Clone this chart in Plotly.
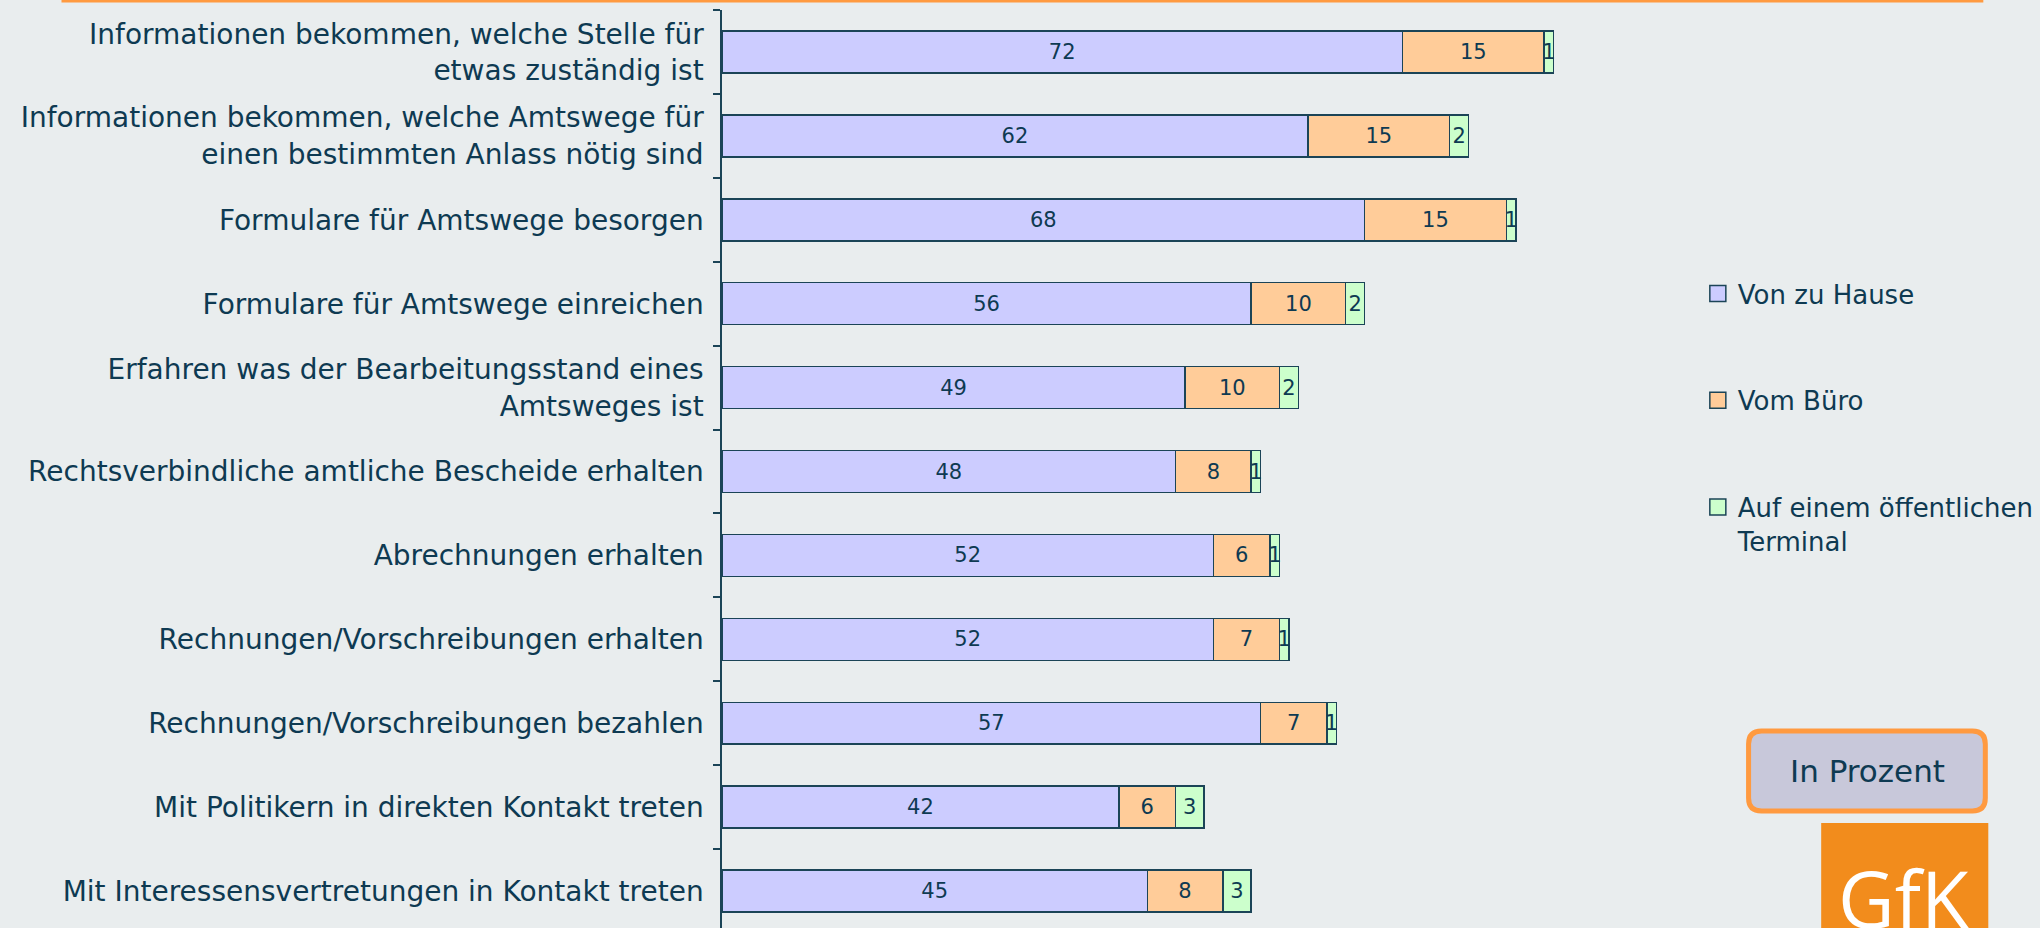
import plotly.graph_objects as go

categories = [
    "Informationen bekommen, welche Stelle für<br>etwas zuständig ist",
    "Informationen bekommen, welche Amtswege für<br>einen bestimmten Anlass nötig sind",
    "Formulare für Amtswege besorgen",
    "Formulare für Amtswege einreichen",
    "Erfahren was der Bearbeitungsstand eines<br>Amtsweges ist",
    "Rechtsverbindliche amtliche Bescheide erhalten",
    "Abrechnungen erhalten",
    "Rechnungen/Vorschreibungen erhalten",
    "Rechnungen/Vorschreibungen bezahlen",
    "Mit Politikern in direkten Kontakt treten",
    "Mit Interessensvertretungen in Kontakt treten",
]
von_zu_hause = [72, 62, 68, 56, 49, 48, 52, 52, 57, 42, 45]
vom_buero = [15, 15, 15, 10, 10, 8, 6, 7, 7, 6, 8]
terminal = [1, 2, 1, 2, 2, 1, 1, 1, 1, 3, 3]

series_names = ["Von zu Hause", "Vom Büro", "Auf einem öffentlichen<br>Terminal"]
series_values = [von_zu_hause, vom_buero, terminal]
series_colors = ["#CCCCFF", "#FFCC99", "#CCFFCC"]

TXT = "#0E3A52"
BG = "#E9EDEE"
EDGE = "#1B4457"
FONT = "DejaVu Sans"

W, H = 2040, 928
L, R_EDGE, T, B = 722, 1672, 10, 928

fig = go.Figure()
for i, (name, vals, col) in enumerate(zip(series_names, series_values, series_colors)):
    fig.add_trace(go.Bar(
        y=categories, x=vals, name=name, orientation="h",
        marker=dict(color=col, line=dict(color=EDGE, width=1.5)),
        text=[str(v) for v in vals], textposition="inside",
        insidetextanchor="middle", constraintext="none",
        textfont=dict(family=FONT, size=21, color=TXT),
        width=0.5, legendgroup=f"g{i}", showlegend=False, hoverinfo="skip",
    ))
# legend entries with larger square swatches
for i, (name, col) in enumerate(zip(series_names, series_colors)):
    fig.add_trace(go.Scatter(
        x=[None], y=[None], mode="markers", name=name,
        marker=dict(symbol="square", size=16, color=col, line=dict(color=EDGE, width=1.5)),
        legendgroup=f"g{i}", showlegend=True, hoverinfo="skip",
    ))

def px(xp):
    return (xp - L) / (R_EDGE - L)

def py(yp):
    return (B - yp) / (B - T)

def rounded_rect(x0, y0, x1, y1, r):
    def P(x, y):
        return f"{px(x):.5f},{py(y):.5f}"
    return (f"M {P(x0 + r, y0)} L {P(x1 - r, y0)} Q {P(x1, y0)} {P(x1, y0 + r)} "
            f"L {P(x1, y1 - r)} Q {P(x1, y1)} {P(x1 - r, y1)} "
            f"L {P(x0 + r, y1)} Q {P(x0, y1)} {P(x0, y1 - r)} "
            f"L {P(x0, y0 + r)} Q {P(x0, y0)} {P(x0 + r, y0)} Z")

shapes = [
    # orange top rule
    dict(type="line", xref="paper", yref="paper", x0=px(58), x1=px(1990),
         y0=py(1), y1=py(1), line=dict(color="#FF9A40", width=3)),
    # "In Prozent" box
    dict(type="path", xref="paper", yref="paper",
         path=rounded_rect(1754, 731, 1992, 811, 13),
         fillcolor="#C8C8DA", line=dict(color="#FF9A40", width=5)),
    # GfK logo
    dict(type="rect", xref="paper", yref="paper", x0=px(1827), x1=px(1995),
         y0=py(935), y1=py(823), fillcolor="#F28C1C", line=dict(width=0)),
]

annotations = [
    dict(text="In Prozent", xref="paper", yref="paper", x=px(1874), y=py(771),
         showarrow=False, font=dict(family=FONT, size=31, color=TXT),
         xanchor="center", yanchor="middle"),
    dict(text="GfK", xref="paper", yref="paper", x=px(1910), y=py(843),
         showarrow=False, font=dict(family="Open Sans", size=78, color="white"),
         xanchor="center", yanchor="top"),
]

fig.update_layout(
    width=W, height=H, barmode="stack",
    paper_bgcolor=BG, plot_bgcolor=BG,
    margin=dict(l=L, r=W - R_EDGE, t=T, b=H - B, pad=0),
    font=dict(family=FONT, color=TXT),
    showlegend=True,
    legend=dict(x=px(1703), y=py(270), xanchor="left", yanchor="top",
                font=dict(family=FONT, size=26, color=TXT),
                bgcolor="rgba(0,0,0,0)", traceorder="grouped",
                tracegroupgap=70, valign="top", itemclick=False,
                itemsizing="trace"),
    shapes=shapes, annotations=annotations,
    xaxis=dict(range=[0, 100], visible=False, showgrid=False, zeroline=False),
    yaxis=dict(range=[10.44, -0.5], type="category",
               showline=True, linecolor=EDGE, linewidth=1.5,
               ticks="outside", tickson="boundaries", ticklen=7,
               tickcolor=EDGE, tickwidth=1.5, ticklabelstandoff=11,
               tickfont=dict(family=FONT, size=28, color=TXT),
               showgrid=False, zeroline=False),
)

fig.write_html("out.html", config={"displayModeBar": False},
               post_script="document.body.style.margin='0px';document.body.style.overflow='hidden';")
